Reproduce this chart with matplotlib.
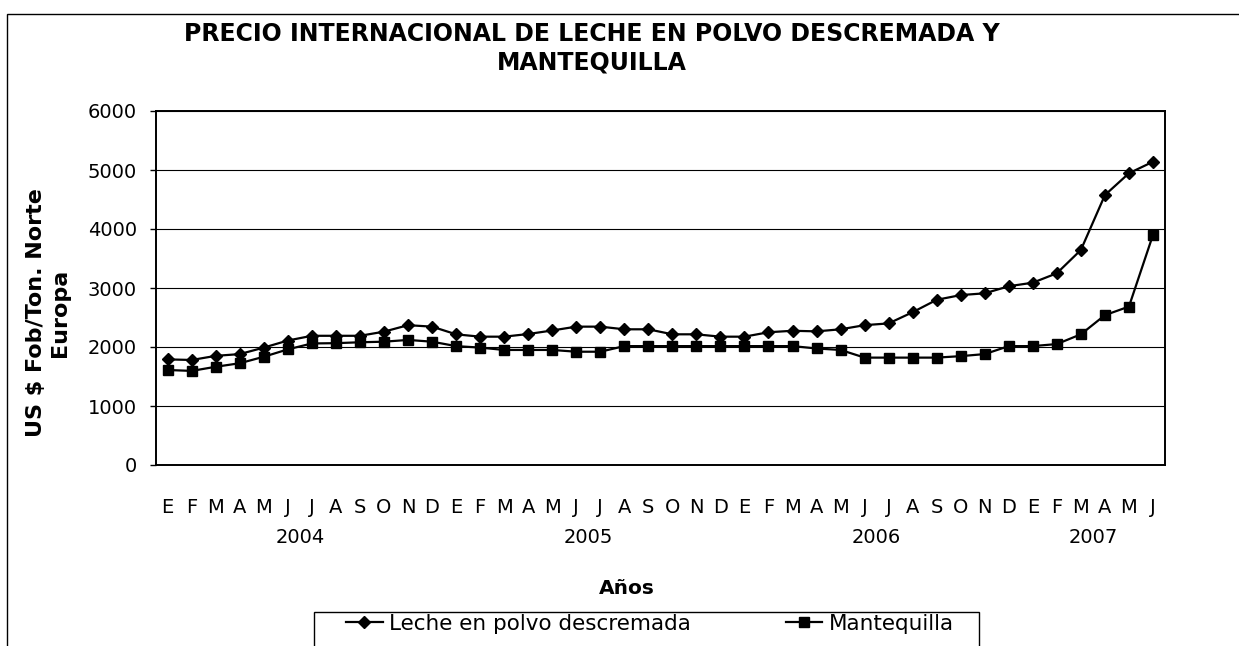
import matplotlib
matplotlib.use("Agg")
import matplotlib.pyplot as plt
from matplotlib.patches import Rectangle

# monthly prices, January 2004 to June 2007 (US$ FOB / ton, Northern Europe)
meses = ["E", "F", "M", "A", "M", "J", "J", "A", "S", "O", "N", "D"] * 3 + ["E", "F", "M", "A", "M", "J"]
anios = ["2004", "2005", "2006", "2007"]
anio_inicio = [0, 12, 24, 36]
anio_fin = [11, 23, 35, 41]

leche = [1790, 1780, 1850, 1880, 1990, 2110, 2190, 2190, 2190, 2260, 2370, 2345,
         2215, 2175, 2175, 2220, 2280, 2345, 2345, 2300, 2300, 2215, 2215, 2175,
         2175, 2250, 2275, 2265, 2300, 2370, 2400, 2590, 2800, 2880, 2910, 3030,
         3090, 3250, 3645, 4575, 4945, 5140]
mantequilla = [1610, 1595, 1665, 1725, 1835, 1960, 2060, 2065, 2080, 2090, 2120, 2090,
               2015, 1990, 1950, 1950, 1950, 1920, 1920, 2015, 2015, 2015, 2015, 2015,
               2015, 2015, 2015, 1975, 1950, 1820, 1820, 1820, 1820, 1845, 1880, 2015,
               2015, 2050, 2215, 2540, 2685, 3900]

plt.rcParams['font.family'] = ['DejaVu Sans']

W, H = 1239, 646
fig = plt.figure(figsize=(W / 100, H / 100), dpi=100)
ax = fig.add_axes([155.7 / W, 1 - 465 / H, (1165 - 155.7) / W, (465 - 111) / H])

x = list(range(len(meses)))
ax.plot(x, leche, color='black', lw=1.6, marker='D', ms=6.2, mec='black', mfc='black',
        label="Leche en polvo descremada")
ax.plot(x, mantequilla, color='black', lw=1.6, marker='s', ms=7.6, mec='black', mfc='black',
        label="Mantequilla")

ax.set_xlim(-0.5, len(meses) - 0.5)
ax.set_ylim(0, 6000)
ax.set_yticks(range(0, 6001, 1000))
ax.yaxis.grid(True, color='black', lw=0.8)
ax.set_axisbelow(True)
for s in ax.spines.values():
    s.set_linewidth(1.4)
    s.set_color('black')

ax.set_xticks(x)
ax.set_xticklabels(meses)
ax.tick_params(axis='x', length=0, pad=24, labelsize=14)
ax.tick_params(axis='y', length=4.5, width=1, pad=9, labelsize=14)

# year labels under each group of months
for nombre, a, b in zip(anios, anio_inicio, anio_fin):
    ax.text((a + b) / 2, -0.2034, nombre, transform=ax.get_xaxis_transform(),
            ha='center', va='center', fontsize=14)

fig.text(592 / W, 1 - 48 / H, "PRECIO INTERNACIONAL DE LECHE EN POLVO DESCREMADA Y\nMANTEQUILLA",
         ha='center', va='center', fontsize=17, fontweight='bold', linespacing=1.25)
fig.text(48 / W, 1 - 313 / H, "US $ Fob/Ton. Norte\nEuropa", rotation=90,
         ha='center', va='center', fontsize=16, fontweight='bold', multialignment='center',
         linespacing=1.25)
fig.text(627 / W, 1 - 589 / H, "Años", ha='center', va='center', fontsize=14.5, fontweight='bold')

# legend entries, with its box drawn separately (it runs past the bottom edge)
leg = fig.legend(loc='center', bbox_to_anchor=(650 / W, 1 - 624 / H), ncol=2,
                 frameon=False, fontsize=15.5, handlelength=1.7, columnspacing=4.4,
                 borderpad=0, borderaxespad=0, handletextpad=0.3)
fig.patches.append(Rectangle((314 / W, -0.1), (979 - 314) / W, 0.1 + (646 - 612) / H,
                             transform=fig.transFigure, fill=False, edgecolor='black', lw=1.0))

# outer frame of the chart area
fig.patches.append(Rectangle((7 / W, -0.2), 2, 1.2 - 14 / H, transform=fig.transFigure,
                             fill=False, edgecolor='black', lw=1.0))

fig.savefig("out.png", dpi=100)
